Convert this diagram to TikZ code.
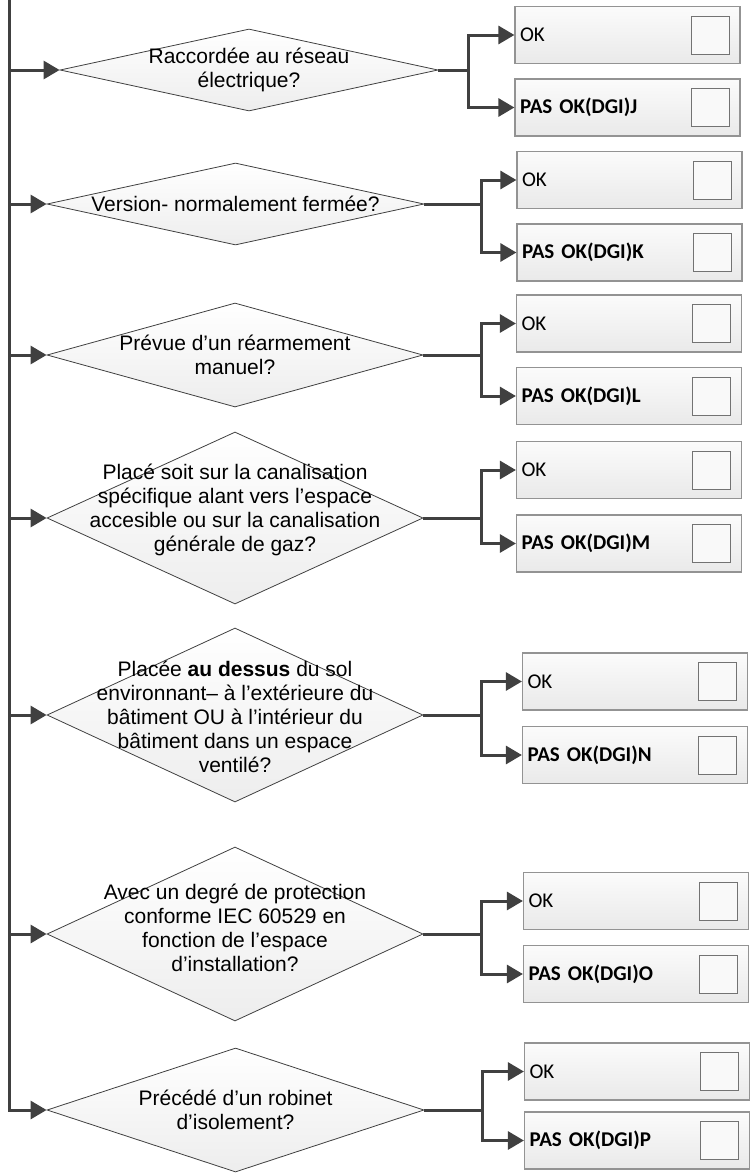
\documentclass[tikz,border=0pt]{standalone}
\usepackage{fontspec}
\setmainfont{Liberation Sans}
\newfontfamily\boxfont{Carlito}
\usetikzlibrary{arrows.meta,positioning,shapes.geometric}
\definecolor{lineclr}{HTML}{404040}

\begin{document}
\begin{tikzpicture}
		[x=1pt,y=-1pt,
		question/.style={diamond,draw=lineclr,line width=0.8pt,top color=white,bottom color=gray!14,inner sep=0pt},
		qtext/.style={align=center,inner sep=0pt,font=\fontsize{21}{24}\selectfont},
		answer/.style={rectangle,draw=gray!85,line width=1.2pt,top color=gray!3,bottom color=gray!17,
			minimum width=225pt,minimum height=57pt,text width=215pt,inner xsep=5pt,align=left,
			font=\boxfont\fontsize{21}{24}\selectfont},
		chk/.style={rectangle,draw=gray!90!black,line width=1pt,fill=gray!5,minimum size=38pt,inner sep=0pt},
		flow/.style={draw=lineclr,line width=3pt,-{Triangle[length=16pt,width=18pt]}},
		trunk/.style={draw=lineclr,line width=3pt}]
		\useasboundingbox (0,0) rectangle (752,1173);
		
		% questions
		\node[question,minimum width=378pt,minimum height=82pt] (d1) at (249,70) {};
		\node[question,minimum width=377pt,minimum height=82pt] (d2) at (235.5,204) {};
		\node[question,minimum width=376pt,minimum height=104pt] (d3) at (235,355) {};
		\node[question,minimum width=376pt,minimum height=172pt] (d4) at (235,518) {};
		\node[question,minimum width=376pt,minimum height=174pt] (d5) at (235,715) {};
		\node[question,minimum width=376pt,minimum height=174pt] (d6) at (235,934) {};
		\node[question,minimum width=377pt,minimum height=124pt] (d7) at (235.5,1110) {};
		
		\node[qtext] (q1) at (d1.center) {Raccordée au réseau\\électrique?};
		\node[qtext] (q2) at (d2.center) {Version- normalement fermée?};
		\node[qtext] (q3) at (d3.center) {Prévue d’un réarmement\\manuel?};
		\node[qtext,yshift=8pt] (q4) at (d4.center) {Placé soit sur la canalisation\\spécifique alant vers l’espace\\accesible ou sur la canalisation\\générale de gaz?};
		\node[qtext,yshift=-2pt] (q5) at (d5.center) {Placée \textbf{au dessus} du sol\\environnant– à l’extérieure du\\bâtiment OU à l’intérieur du\\bâtiment dans un espace\\ventilé?};
		\node[qtext,yshift=6pt] (q6) at (d6.center) {Avec un degré de protection\\conforme IEC 60529 en\\fonction de l’espace\\d’installation?};
		\node[qtext] (q7) at (d7.center) {Précédé d’un robinet\\d’isolement?};
		
		% answers
		\node[answer] (ok1) at (627.5,35) {OK};
		\node[answer] (nok1) at (627.5,107.5) {\bfseries PAS OK(DGI)J};
		\node[answer] (ok2) at (629.5,180) {OK};
		\node[answer] (nok2) at (629.5,252.5) {\bfseries PAS OK(DGI)K};
		\node[answer] (ok3) at (629,323.5) {OK};
		\node[answer] (nok3) at (629,396) {\bfseries PAS OK(DGI)L};
		\node[answer] (ok4) at (629,470) {OK};
		\node[answer] (nok4) at (629,543.5) {\bfseries PAS OK(DGI)M};
		\node[answer] (ok5) at (635,681.5) {OK};
		\node[answer] (nok5) at (635,755) {\bfseries PAS OK(DGI)N};
		\node[answer] (ok6) at (636,901) {OK};
		\node[answer] (nok6) at (636,974) {\bfseries PAS OK(DGI)O};
		\node[answer] (ok7) at (637,1071.5) {OK};
		\node[answer] (nok7) at (637,1140.5) {\bfseries PAS OK(DGI)P};
		
		\foreach \i in {1,...,7} {
			\node[chk,left=11pt of ok\i.east] (cka\i) {};
			\node[chk,left=11pt of nok\i.east] (ckb\i) {};
		}
		
		% main line
		\coordinate (top) at (9,0);
		\draw[flow] (top) -- (top |- d7.west) -- (d7.west);
		\foreach \i in {1,...,6}
			\draw[flow] (top |- d\i.west) -- (d\i.west);
		
		% branches
		\foreach \i/\bx in {1/30,2/57,3/58,4/58,5/58,6/58,7/58} {
			\coordinate (br\i) at ([xshift=\bx pt]d\i.east);
			\draw[flow] (d\i.east) -- (br\i) |- (ok\i.west);
			\draw[flow] (br\i) |- (nok\i.west);
		}
		\end{tikzpicture}
\end{document}
